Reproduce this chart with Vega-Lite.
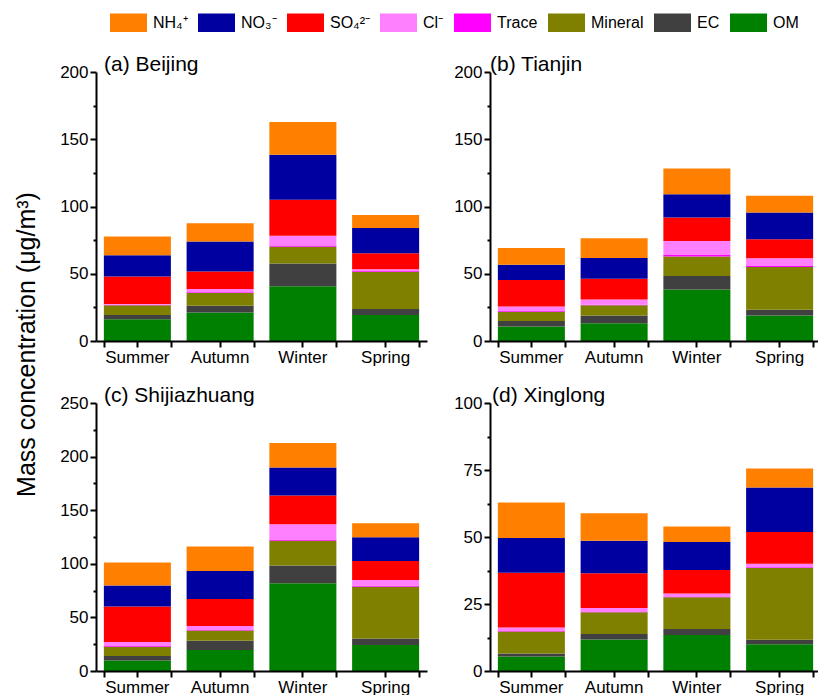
{
  "$schema": "https://vega.github.io/schema/vega-lite/v6.json",
  "padding": {"left": 14, "top": 4, "right": 0, "bottom": 0},
  "background": "white",
  "data": {"values": [
    {"site":"Beijing","season":"Summer","OM":16.1,"EC":3.3,"Mineral":7.2,"Trace":0.3,"Cl":0.7,"SO4":20.3,"NO3":15.9,"NH4":13.9},
    {"site":"Beijing","season":"Autumn","OM":21.1,"EC":5.2,"Mineral":9.4,"Trace":0.5,"Cl":2.5,"SO4":12.9,"NO3":22.3,"NH4":13.7},
    {"site":"Beijing","season":"Winter","OM":40.7,"EC":16.9,"Mineral":12.4,"Trace":0.7,"Cl":7.5,"SO4":26.8,"NO3":33.5,"NH4":24.3},
    {"site":"Beijing","season":"Spring","OM":19.3,"EC":4.5,"Mineral":27.7,"Trace":0.5,"Cl":1.3,"SO4":11.9,"NO3":18.8,"NH4":9.7},
    {"site":"Tianjin","season":"Summer","OM":10.7,"EC":4.2,"Mineral":6.9,"Trace":0.5,"Cl":3.3,"SO4":19.8,"NO3":11.2,"NH4":12.6},
    {"site":"Tianjin","season":"Autumn","OM":13.2,"EC":5.7,"Mineral":7.7,"Trace":0.4,"Cl":3.8,"SO4":15.4,"NO3":15.6,"NH4":14.6},
    {"site":"Tianjin","season":"Winter","OM":38.2,"EC":10.2,"Mineral":14.4,"Trace":1.2,"Cl":10.4,"SO4":17.4,"NO3":17.4,"NH4":19.1},
    {"site":"Tianjin","season":"Spring","OM":18.9,"EC":4.4,"Mineral":31.8,"Trace":1.0,"Cl":5.4,"SO4":14.2,"NO3":19.8,"NH4":12.4},
    {"site":"Shijiazhuang","season":"Summer","OM":9.7,"EC":4.3,"Mineral":8.7,"Trace":0.6,"Cl":3.8,"SO4":33.0,"NO3":19.6,"NH4":21.5},
    {"site":"Shijiazhuang","season":"Autumn","OM":19.6,"EC":8.7,"Mineral":9.4,"Trace":0.6,"Cl":3.7,"SO4":25.2,"NO3":26.2,"NH4":22.7},
    {"site":"Shijiazhuang","season":"Winter","OM":81.9,"EC":16.5,"Mineral":23.0,"Trace":1.3,"Cl":14.3,"SO4":26.8,"NO3":26.1,"NH4":22.7},
    {"site":"Shijiazhuang","season":"Spring","OM":24.3,"EC":6.0,"Mineral":48.3,"Trace":0.9,"Cl":5.5,"SO4":17.7,"NO3":22.1,"NH4":13.1},
    {"site":"Xinglong","season":"Summer","OM":5.4,"EC":1.1,"Mineral":8.2,"Trace":0.4,"Cl":1.1,"SO4":20.5,"NO3":12.9,"NH4":13.3},
    {"site":"Xinglong","season":"Autumn","OM":11.8,"EC":2.0,"Mineral":8.1,"Trace":0.3,"Cl":1.3,"SO4":13.0,"NO3":12.1,"NH4":10.3},
    {"site":"Xinglong","season":"Winter","OM":13.4,"EC":2.3,"Mineral":11.8,"Trace":0.3,"Cl":1.1,"SO4":8.8,"NO3":10.4,"NH4":5.8},
    {"site":"Xinglong","season":"Spring","OM":10.0,"EC":1.7,"Mineral":26.7,"Trace":0.3,"Cl":1.3,"SO4":11.9,"NO3":16.6,"NH4":7.1}
  ]},
  "transform": [
    {"fold": ["OM","EC","Mineral","Trace","Cl","SO4","NO3","NH4"], "as": ["key","v"]},
    {"calculate": "indexof(['OM','EC','Mineral','Trace','Cl','SO4','NO3','NH4'], datum.key)", "as": "k"}
  ],
  "columns": 2,
  "bounds": "flush",
  "spacing": {"row": 62, "column": 63},
  "concat": [
    {
      "width": 331, "height": 269,
      "title": {"text": "(a) Beijing", "dx": 8, "dy": 16},
      "transform": [{"filter": "datum.site === 'Beijing'"}],
      "layer": [
        {"mark": {"type": "bar"},
         "encoding": {
           "x": {"field": "season", "type": "nominal", "sort": ["Summer","Autumn","Winter","Spring"], "scale": {"paddingInner": 0.19, "paddingOuter": 0.095}, "axis": {"title": null, "labelAngle": 0, "tickSize": 6, "labelPadding": 2, "orient": "bottom", "zindex": 1}},
           "y": {"field": "v", "type": "quantitative", "stack": "zero", "scale": {"domain": [0, 200], "nice": false}, "axis": {"orient": "left", "values": [0,50,100,150,200], "tickSize": 6, "labelPadding": 2, "zindex": 1, "title": "Mass concentration (μg/m³)", "titleFontSize": 25, "titleFontWeight": "normal", "titleFont": "Liberation Sans", "titleColor": "black", "titleAngle": -90, "titleAlign": "center", "titleBaseline": "alphabetic", "titleX": -62, "titleY": 272}},
           "color": {"field": "key", "type": "nominal", "scale": {"domain": ["NH4","NO3","SO4","Cl","Trace","Mineral","EC","OM"], "range": ["#ff8000","#0000a0","#ff0000","#ff80ff","#ff00ff","#808000","#404040","#008000"]}, "legend": {"labelExpr": "datum.label === 'NH4' ? 'NH₄⁺' : datum.label === 'NO3' ? 'NO₃⁻' : datum.label === 'SO4' ? 'SO₄²⁻' : datum.label === 'Cl' ? 'Cl⁻' : datum.label"}},
           "order": {"field": "k", "type": "quantitative"}
         }},
        {"mark": {"type": "bar", "opacity": 0},
         "encoding": {
           "x": {"field": "season", "type": "nominal", "sort": ["Summer","Autumn","Winter","Spring"], "scale": {"paddingInner": 0.19, "paddingOuter": 0.095}, "axis": {"title": null, "labels": false, "domain": false, "tickBand": "extent", "tickSize": 6, "orient": "bottom", "zindex": 1}},
           "y": {"field": "v", "type": "quantitative", "stack": "zero", "scale": {"domain": [0, 200], "nice": false}, "axis": {"orient": "left", "title": null, "labels": false, "domain": false, "values": [25,75,125,175], "tickSize": 3, "zindex": 1}}
         }}
      ],
      "resolve": {"axis": {"x": "independent", "y": "independent"}}
    },
    {
      "width": 331, "height": 269,
      "title": {"text": "(b) Tianjin", "dx": 0, "dy": 16},
      "transform": [{"filter": "datum.site === 'Tianjin'"}],
      "layer": [
        {"mark": {"type": "bar"},
         "encoding": {
           "x": {"field": "season", "type": "nominal", "sort": ["Summer","Autumn","Winter","Spring"], "scale": {"paddingInner": 0.19, "paddingOuter": 0.095}, "axis": {"title": null, "labelAngle": 0, "tickSize": 6, "labelPadding": 2, "orient": "bottom", "zindex": 1}},
           "y": {"field": "v", "type": "quantitative", "stack": "zero", "scale": {"domain": [0, 200], "nice": false}, "axis": {"orient": "left", "values": [0,50,100,150,200], "tickSize": 6, "labelPadding": 2, "zindex": 1, "title": null}},
           "color": {"field": "key", "type": "nominal"},
           "order": {"field": "k", "type": "quantitative"}
         }},
        {"mark": {"type": "bar", "opacity": 0},
         "encoding": {
           "x": {"field": "season", "type": "nominal", "sort": ["Summer","Autumn","Winter","Spring"], "scale": {"paddingInner": 0.19, "paddingOuter": 0.095}, "axis": {"title": null, "labels": false, "domain": false, "tickBand": "extent", "tickSize": 6, "orient": "bottom", "zindex": 1}},
           "y": {"field": "v", "type": "quantitative", "stack": "zero", "scale": {"domain": [0, 200], "nice": false}, "axis": {"orient": "left", "title": null, "labels": false, "domain": false, "values": [25,75,125,175], "tickSize": 3, "zindex": 1}}
         }}
      ],
      "resolve": {"axis": {"x": "independent", "y": "independent"}}
    },
    {
      "width": 331, "height": 268,
      "title": {"text": "(c) Shijiazhuang", "dx": 8, "dy": 16},
      "transform": [{"filter": "datum.site === 'Shijiazhuang'"}],
      "layer": [
        {"mark": {"type": "bar"},
         "encoding": {
           "x": {"field": "season", "type": "nominal", "sort": ["Summer","Autumn","Winter","Spring"], "scale": {"paddingInner": 0.19, "paddingOuter": 0.095}, "axis": {"title": null, "labelAngle": 0, "tickSize": 6, "labelPadding": 2, "orient": "bottom", "zindex": 1}},
           "y": {"field": "v", "type": "quantitative", "stack": "zero", "scale": {"domain": [0, 250], "nice": false}, "axis": {"orient": "left", "values": [0,50,100,150,200,250], "tickSize": 6, "labelPadding": 2, "zindex": 1, "title": null}},
           "color": {"field": "key", "type": "nominal"},
           "order": {"field": "k", "type": "quantitative"}
         }},
        {"mark": {"type": "bar", "opacity": 0},
         "encoding": {
           "x": {"field": "season", "type": "nominal", "sort": ["Summer","Autumn","Winter","Spring"], "scale": {"paddingInner": 0.19, "paddingOuter": 0.095}, "axis": {"title": null, "labels": false, "domain": false, "tickBand": "extent", "tickSize": 6, "orient": "bottom", "zindex": 1}},
           "y": {"field": "v", "type": "quantitative", "stack": "zero", "scale": {"domain": [0, 250], "nice": false}, "axis": {"orient": "left", "title": null, "labels": false, "domain": false, "values": [25,75,125,175,225], "tickSize": 3, "zindex": 1}}
         }}
      ],
      "resolve": {"axis": {"x": "independent", "y": "independent"}}
    },
    {
      "width": 331, "height": 268,
      "title": {"text": "(d) Xinglong", "dx": 2, "dy": 16},
      "transform": [{"filter": "datum.site === 'Xinglong'"}],
      "layer": [
        {"mark": {"type": "bar"},
         "encoding": {
           "x": {"field": "season", "type": "nominal", "sort": ["Summer","Autumn","Winter","Spring"], "scale": {"paddingInner": 0.19, "paddingOuter": 0.095}, "axis": {"title": null, "labelAngle": 0, "tickSize": 6, "labelPadding": 2, "orient": "bottom", "zindex": 1}},
           "y": {"field": "v", "type": "quantitative", "stack": "zero", "scale": {"domain": [0, 100], "nice": false}, "axis": {"orient": "left", "values": [0,25,50,75,100], "tickSize": 6, "labelPadding": 2, "zindex": 1, "title": null}},
           "color": {"field": "key", "type": "nominal"},
           "order": {"field": "k", "type": "quantitative"}
         }},
        {"mark": {"type": "bar", "opacity": 0},
         "encoding": {
           "x": {"field": "season", "type": "nominal", "sort": ["Summer","Autumn","Winter","Spring"], "scale": {"paddingInner": 0.19, "paddingOuter": 0.095}, "axis": {"title": null, "labels": false, "domain": false, "tickBand": "extent", "tickSize": 6, "orient": "bottom", "zindex": 1}},
           "y": {"field": "v", "type": "quantitative", "stack": "zero", "scale": {"domain": [0, 100], "nice": false}, "axis": {"orient": "left", "title": null, "labels": false, "domain": false, "values": [12.5,37.5,62.5,87.5], "tickSize": 3, "zindex": 1}}
         }}
      ],
      "resolve": {"axis": {"x": "independent", "y": "independent"}}
    }
  ],
  "config": {
    "view": {"stroke": null},
    "font": "Liberation Sans",
    "axis": {"domainColor": "black", "domainWidth": 2, "tickColor": "black", "tickWidth": 2, "labelColor": "black", "labelFont": "Liberation Sans", "labelFontSize": 17, "grid": false, "labelFlush": false},
    "title": {"font": "Liberation Sans", "fontSize": 21, "fontWeight": "normal", "anchor": "start", "frame": "group", "offset": 0, "baseline": "alphabetic", "color": "black"},
    "legend": {
      "orient": "none", "legendX": 14, "legendY": -68, "direction": "horizontal", "columns": 8,
      "title": null, "padding": 0, "symbolType": "M-1,-0.5H1V0.5H-1Z", "symbolSize": 1369, "symbolStrokeWidth": 0,
      "labelFont": "Liberation Sans", "labelFontSize": 16, "labelColor": "black", "labelOffset": 6, "columnPadding": 10
    }
  }
}
